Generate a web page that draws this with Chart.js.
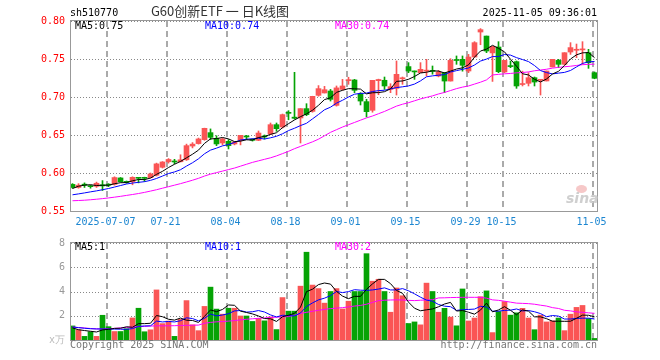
<!DOCTYPE html>
<html lang="zh">
<head>
<meta charset="UTF-8">
<title>G60创新ETF 日K线图</title>
<script src="https://cdn.jsdelivr.net/npm/chart.js"></script>
<style>
  body { margin: 0; background: #fff; }
  #wrap { position: relative; width: 660px; height: 360px; overflow: hidden;
          font-family: "DejaVu Sans Mono", monospace; font-size: 10px; }
  canvas { position: absolute; left: 0; }
  .t { position: absolute; line-height: 10px; white-space: pre; }
</style>
</head>
<body>
<div id="wrap">
  <canvas id="kline" width="660" height="232" style="top:0;width:660px;height:232px"></canvas>
  <canvas id="vol" width="660" height="128" style="top:232px;width:660px;height:128px"></canvas>

  <div class="t" style="left:70px;top:8px;color:#000">sh510770</div>
  <div class="t" style="left:0;width:440px;top:4px;text-align:center;font:13px/13px 'Noto Sans CJK SC';color:#333">G60创新ETF 一 日K线图</div>
  <div class="t" style="right:63px;top:8px;color:#000">2025-11-05 09:36:01</div>

  <div class="t" id="kMa5" style="left:75px;top:21px;color:#000"></div>
  <div class="t" id="kMa10" style="left:205px;top:21px;color:#0000ff"></div>
  <div class="t" id="kMa30" style="left:335px;top:21px;color:#ff00ff"></div>

  <div class="t" id="vMa5" style="left:75px;top:242px;color:#000"></div>
  <div class="t" id="vMa10" style="left:205px;top:242px;color:#0000ff"></div>
  <div class="t" id="vMa30" style="left:335px;top:242px;color:#ff00ff"></div>

  <div style="position:absolute;left:576px;top:185px;width:11px;height:8px;border-radius:50%;background:#f6c8c8"></div>
  <div class="t" style="left:566px;top:191px;font:italic bold 14px/14px 'DejaVu Sans';color:#cfcfcf">sina</div>

  <div class="t" style="left:70px;top:340px;color:#777">Copyright 2025 SINA.COM</div>
  <div class="t" style="right:63px;top:340px;color:#777">http://finance.sina.com.cn</div>
</div>

<script>
// trading days shown
const dates = ['06-27','06-30','07-01','07-02','07-03','07-04',
  '07-07','07-08','07-09','07-10','07-11','07-14','07-15','07-16','07-17','07-18',
  '07-21','07-22','07-23','07-24','07-25','07-28','07-29','07-30','07-31','08-01',
  '08-04','08-05','08-06','08-07','08-08','08-11','08-12','08-13','08-14','08-15',
  '08-18','08-19','08-20','08-21','08-22','08-25','08-26','08-27','08-28','08-29',
  '09-01','09-02','09-03','09-04','09-05','09-08','09-09','09-10','09-11','09-12',
  '09-15','09-16','09-17','09-18','09-19','09-22','09-23','09-24','09-25','09-26',
  '09-29','09-30','10-09','10-10','10-13','10-14','10-15','10-16','10-17',
  '10-20','10-21','10-22','10-23','10-24','10-27','10-28','10-29','10-30','10-31',
  '11-03','11-04','11-05'];
const dateTicks = ['2025-07-07','07-21','08-04','08-18','09-01','09-15','09-29','10-15','11-05'];
const priceTicks = [0.55, 0.60, 0.65, 0.70, 0.75, 0.80];
const volTicks = [0, 2, 4, 6, 8];

const openP = [.585,.581,.5845,.583,.5825,.5845,.585,.585,.5935,.589,
  .5885,.5935,.594,.594,.597,.6075,.6148,.615,.6148,.6174,
  .6355,.6387,.6439,.6531,.6456,.6395,.6417,.6382,.643,.648,
  .6445,.643,.6478,.6513,.6636,.6605,.679,.6735,.6724,.6847,
  .6811,.7022,.7053,.7079,.689,.710,.7215,.7224,.7044,.6939,
  .6825,.7215,.722,.710,.7114,.724,.740,.7338,.732,.734,
  .734,.7276,.732,.721,.7485,.7496,.7342,.7526,.7855,.7802,
  .758,.7658,.7329,.7408,.7465,.7164,.718,.7254,.722,.7211,
  .7395,.7482,.743,.7592,.7615,.762,.7583,.732];
const highP = [.586,.586,.587,.584,.588,.590,.586,.595,.594,.5895,
  .595,.594,.5945,.600,.613,.615,.619,.618,.624,.638,
  .640,.646,.659,.658,.649,.646,.644,.6417,.6496,.6496,
  .645,.6553,.650,.6658,.6658,.6776,.682,.7325,.6847,.6912,
  .701,.715,.714,.710,.7145,.7232,.726,.7232,.7057,.697,
  .7219,.7235,.7263,.7175,.7474,.7263,.7452,.7342,.7452,.7496,
  .7408,.735,.732,.7504,.754,.754,.7561,.7728,.790,.7802,
  .7666,.7728,.7482,.7474,.7474,.734,.732,.7263,.7232,.7342,
  .7496,.7496,.7583,.7715,.7697,.7728,.7627,.733];
const lowP = [.580,.580,.581,.580,.581,.577,.582,.584,.588,.5865,
  .5845,.587,.589,.5935,.596,.6065,.613,.612,.6145,.6165,
  .633,.638,.643,.644,.636,.637,.6316,.637,.637,.644,
  .642,.6426,.6447,.6504,.6548,.6592,.670,.671,.6395,.6754,
  .680,.701,.7053,.6947,.688,.709,.7167,.7057,.6895,.6737,
  .680,.703,.710,.7057,.7026,.7167,.732,.7232,.732,.7276,
  .730,.7265,.7057,.721,.743,.734,.732,.7526,.7688,.7583,
  .7205,.732,.732,.7386,.7114,.7145,.7145,.7145,.7026,.7211,
  .7395,.7386,.7421,.7561,.7518,.743,.7377,.724];
const closeP = [.581,.584,.584,.582,.5865,.583,.584,.594,.5885,.5875,
  .5943,.593,.593,.5987,.612,.6145,.6178,.6145,.6174,.636,
  .638,.6448,.6588,.6469,.6382,.6447,.636,.6408,.6496,.6474,
  .643,.6526,.6474,.6636,.6583,.6768,.6785,.672,.6847,.6768,
  .7009,.711,.7096,.6969,.712,.7145,.722,.7088,.6947,.6807,
  .7219,.723,.7145,.7136,.7298,.7246,.7342,.733,.7364,.7346,
  .7338,.7329,.721,.7482,.748,.7417,.7526,.7715,.7886,.7605,
  .7666,.7333,.7482,.740,.7145,.717,.7254,.7197,.7224,.7342,
  .7496,.743,.7583,.765,.7618,.7624,.7452,.7246];

const ma5 = [.5796,.5826,.5840,.5846,.5835,.5839,.5839,.5859,.5872,.5874,
  .5897,.5915,.5913,.5933,.5982,.6022,.6072,.6115,.6152,.6200,
  .6247,.6301,.6390,.6449,.6453,.6467,.6449,.6413,.6419,.6437,
  .6434,.6467,.6480,.6508,.6530,.6597,.6649,.6698,.6741,.6778,
  .6826,.6891,.6966,.6990,.7061,.7088,.7110,.7108,.7104,.7041,
  .7056,.7058,.7070,.7107,.7206,.7211,.7233,.7270,.7316,.7326,
  .7344,.7341,.7317,.7341,.7368,.7384,.7423,.7524,.7605,.7630,
  .7680,.7641,.7594,.7497,.7405,.7306,.7290,.7233,.7198,.7237,
  .7303,.7338,.7415,.7500,.7555,.7581,.7585,.7518];
const ma10 = [.5713,.5725,.5738,.5752,.5765,.5780,.5796,.5815,.5835,.5855,
  .5868,.5877,.5886,.5903,.5928,.5960,.5993,.6014,.6043,.6091,
  .6135,.6187,.6253,.6301,.6327,.6357,.6375,.6402,.6434,.6445,
  .6450,.6458,.6447,.6463,.6483,.6516,.6558,.6589,.6624,.6654,
  .6712,.6770,.6832,.6866,.6919,.6957,.7000,.7037,.7047,.7051,
  .7072,.7084,.7089,.7106,.7124,.7134,.7146,.7170,.7212,.7266,
  .7278,.7287,.7294,.7329,.7347,.7364,.7382,.7421,.7473,.7499,
  .7532,.7532,.7559,.7551,.7518,.7493,.7466,.7414,.7348,.7321,
  .7304,.7314,.7324,.7349,.7396,.7442,.7462,.7467];
const ma30 = [.5635,.5638,.5642,.5648,.5655,.5663,.5672,.5682,.5693,.5705,
  .5717,.5730,.5745,.5762,.5780,.5800,.5820,.5840,.5860,.5882,
  .5905,.5930,.5960,.5985,.6005,.6025,.6045,.6065,.6090,.6115,
  .6140,.6160,.6180,.6200,.6225,.6255,.6285,.6320,.6350,.6380,
  .6410,.6445,.6490,.6535,.6570,.6605,.6635,.6665,.6695,.6725,
  .6750,.6780,.6810,.6845,.6880,.6905,.6925,.6950,.6975,.6995,
  .7015,.7040,.7060,.7085,.7110,.7130,.7145,.7170,.7195,.7225,
  .7290,.7298,.7305,.7310,.7318,.7322,.7330,.7345,.7355,.7365,
  .7380,.7390,.7398,.7405,.7415,.7425,.7430,.7432];

// volume, x万
const volume = [1.16,.84,.30,.68,.30,2.04,1.10,.70,.70,.93,
  1.82,2.62,.68,.84,4.13,1.35,1.56,.30,1.70,3.25,
  1.25,.77,2.77,4.36,2.55,2.13,2.62,2.62,1.98,1.98,
  1.53,1.78,1.58,1.90,.86,3.50,2.38,2.38,4.44,7.24,
  4.53,4.24,3.04,4.00,4.24,2.56,3.20,4.00,4.00,7.12,
  4.85,5.01,4.00,2.29,4.29,3.65,1.36,1.49,1.25,4.69,
  4.00,2.29,2.61,1.89,1.17,4.21,1.57,1.81,3.57,4.05,
  .61,2.35,3.17,2.05,2.24,2.61,1.81,.85,2.05,1.49,
  1.57,1.81,.77,2.13,2.69,2.85,1.76,.13];
const volMa5 = [1.00,.85,.78,.72,.66,.83,.88,.96,.97,1.09,
  1.05,1.35,1.35,1.38,2.02,1.92,1.71,1.64,1.81,1.63,
  1.61,1.45,1.95,2.48,2.34,2.52,2.89,2.86,2.38,2.27,
  2.15,1.98,1.77,1.75,1.53,1.92,2.04,2.20,2.71,3.99,
  4.19,4.57,4.70,4.61,4.01,3.62,3.41,3.60,3.60,4.18,
  4.63,5.00,5.00,4.65,4.09,3.85,3.12,2.62,2.41,2.49,
  2.56,2.74,2.97,3.10,2.39,2.43,2.29,2.13,2.47,3.04,
  2.32,2.48,2.75,2.45,2.08,2.48,2.38,1.91,1.91,1.76,
  1.55,1.55,1.54,1.55,1.79,2.05,2.04,1.91];
const volMa10 = [1.07,1.02,.97,.93,.91,.91,.90,.90,.89,.88,
  .94,1.12,1.16,1.17,1.56,1.49,1.53,1.49,1.59,1.83,
  1.77,1.58,1.79,2.14,1.99,2.06,2.17,2.40,2.43,2.30,
  2.33,2.43,2.31,2.07,1.90,2.04,2.01,1.99,2.23,2.76,
  3.06,3.31,3.45,3.66,4.00,3.91,3.99,4.15,4.11,4.09,
  4.13,4.20,4.30,4.13,4.13,4.24,4.06,3.81,3.53,3.29,
  3.20,2.93,2.79,2.75,2.44,2.50,2.52,2.55,2.78,2.72,
  2.38,2.38,2.44,2.46,2.56,2.40,2.43,2.33,2.18,1.92,
  2.02,1.97,1.73,1.73,1.78,1.80,1.80,1.73];
const volMa30 = [1.07,1.03,.99,.95,.92,.91,.93,.96,1.00,1.04,
  1.07,1.10,1.12,1.15,1.17,1.17,1.17,1.18,1.20,1.21,
  1.22,1.23,1.38,1.45,1.50,1.52,1.56,1.60,1.66,1.71,
  1.75,1.79,1.82,1.86,1.88,1.91,1.93,2.05,2.19,2.28,
  2.37,2.45,2.52,2.59,2.63,2.67,2.73,2.80,2.85,2.95,
  3.10,3.25,3.28,3.30,3.31,3.30,3.27,3.25,3.28,3.30,
  3.32,3.47,3.48,3.50,3.51,3.52,3.52,3.52,3.52,3.45,
  3.31,3.27,3.20,3.12,3.04,3.02,3.00,2.95,2.87,2.80,
  2.67,2.60,2.45,2.40,2.32,2.28,2.24,2.20];

const RED = '#fa5555', GREEN = '#05a305';
const candleColor = openP.map((o, i) => closeP[i] >= o ? RED : GREEN);
const tickPos = dateTicks.map(t => dates.indexOf(t.slice(-5)));

Chart.defaults.font.family = 'DejaVu Sans Mono';
Chart.defaults.font.size = 10;
Chart.defaults.animation = false;

// dashed vertical + dotted horizontal grid under the marks, gray frame on top
const frame = {
  id: 'frame',
  beforeDatasetsDraw(chart) {
    const { ctx, chartArea: a, scales: { x, y } } = chart;
    const L = Math.round(a.left), R = Math.round(a.right);
    const T = Math.round(a.top), B = Math.round(a.bottom);
    ctx.save();
    ctx.fillStyle = '#888';
    y.ticks.forEach(t => {
      const py = Math.round(y.getPixelForValue(t.value));
      for (let px = L + 1; px < R; px += 3) ctx.fillRect(px, py, 1, 1);
    });
    ctx.fillStyle = '#aaa';
    x.ticks.forEach(t => {
      const px = Math.round(x.getPixelForValue(t.value));
      for (let py = T; py < B; py += 10) ctx.fillRect(px, py, 2, Math.min(6, B - py));
    });
    ctx.restore();
  },
  afterDraw(chart) {
    const { ctx, chartArea: a } = chart;
    ctx.save();
    ctx.strokeStyle = '#999';
    ctx.lineWidth = 1;
    ctx.strokeRect(a.left + 0.5, a.top - 0.5, a.right - a.left - 1, a.bottom - a.top + 1);
    ctx.restore();
  }
};

function xAxis(showLabels, h) {
  return {
    type: 'linear', min: -0.4167, max: 87.5833, bounds: 'data', offset: false,
    afterBuildTicks: s => { s.ticks = tickPos.map(i => ({ value: i - 0.5 })); },
    afterFit: s => { s.height = h; },
    grid: { display: false, drawTicks: false },
    border: { display: false },
    ticks: { display: showLabels, autoSkip: false, maxRotation: 0, minRotation: 0, padding: 5,
             color: '#1c86d1', callback: (v, i) => dateTicks[i] }
  };
}

const line = (arr, color) => ({
  type: 'line', data: arr.map((v, i) => ({ x: i, y: v })),
  borderColor: color, borderWidth: 1, pointRadius: 0, tension: 0, order: 0
});

new Chart(document.getElementById('kline'), {
  type: 'bar',
  data: {
    datasets: [
      line(ma5, '#000'), line(ma10, '#0000ff'), line(ma30, '#ff00ff'),
      { data: openP.map((o, i) => ({ x: i, y: [o, closeP[i]] })), backgroundColor: candleColor,
        barThickness: 5, minBarLength: 1, grouped: false, order: 1 },
      { data: lowP.map((l, i) => ({ x: i, y: [l, highP[i]] })), backgroundColor: candleColor,
        barThickness: 1, minBarLength: 1, grouped: false, order: 2 }
    ]
  },
  options: {
    responsive: false,
    layout: { padding: { top: 21, right: 62, left: 0, bottom: 0 } },
    plugins: { legend: { display: false }, tooltip: { enabled: false } },
    scales: {
      x: xAxis(true, 21),
      y: {
        min: 0.55, max: 0.80, bounds: 'data', beginAtZero: false,
        afterBuildTicks: s => { s.ticks = priceTicks.map(v => ({ value: v })); },
        afterFit: s => { s.width = 70; },
        grid: { display: false, drawTicks: false },
        border: { display: false },
        ticks: { padding: 5, color: '#ff0000', callback: v => v.toFixed(2) }
      }
    }
  },
  plugins: [frame]
});

new Chart(document.getElementById('vol'), {
  type: 'bar',
  data: {
    datasets: [
      line(volMa5, '#000'), line(volMa10, '#0000ff'), line(volMa30, '#ff00ff'),
      { data: volume.map((v, i) => ({ x: i, y: v })), backgroundColor: candleColor,
        barThickness: 5, grouped: false, order: 1 }
    ]
  },
  options: {
    responsive: false,
    layout: { padding: { top: 9, right: 62, left: 0, bottom: 0 } },
    plugins: { legend: { display: false }, tooltip: { enabled: false } },
    scales: {
      x: xAxis(false, 20),
      y: {
        min: 0, max: 8, bounds: 'data',
        afterBuildTicks: s => { s.ticks = volTicks.map(v => ({ value: v })); },
        afterFit: s => { s.width = 70; },
        grid: { display: false, drawTicks: false },
        border: { display: false },
        ticks: { padding: 5, color: c => c.tick.value === 0 ? '#bbb' : '#999',
                 callback: v => v === 0 ? 'x万' : String(v) }
      }
    }
  },
  plugins: [frame]
});

// MA captions show the last value, cut (not rounded) like the original
const cut2 = v => (Math.floor(v * 100 + 1e-6) / 100).toFixed(2);
const last = a => a[a.length - 1];
document.getElementById('kMa5').textContent = 'MA5:' + cut2(last(ma5));
document.getElementById('kMa10').textContent = 'MA10:' + cut2(last(ma10));
document.getElementById('kMa30').textContent = 'MA30:' + cut2(last(ma30));
document.getElementById('vMa5').textContent = 'MA5:' + Math.floor(last(volMa5));
document.getElementById('vMa10').textContent = 'MA10:' + Math.floor(last(volMa10));
document.getElementById('vMa30').textContent = 'MA30:' + Math.floor(last(volMa30));
</script>
</body>
</html>
